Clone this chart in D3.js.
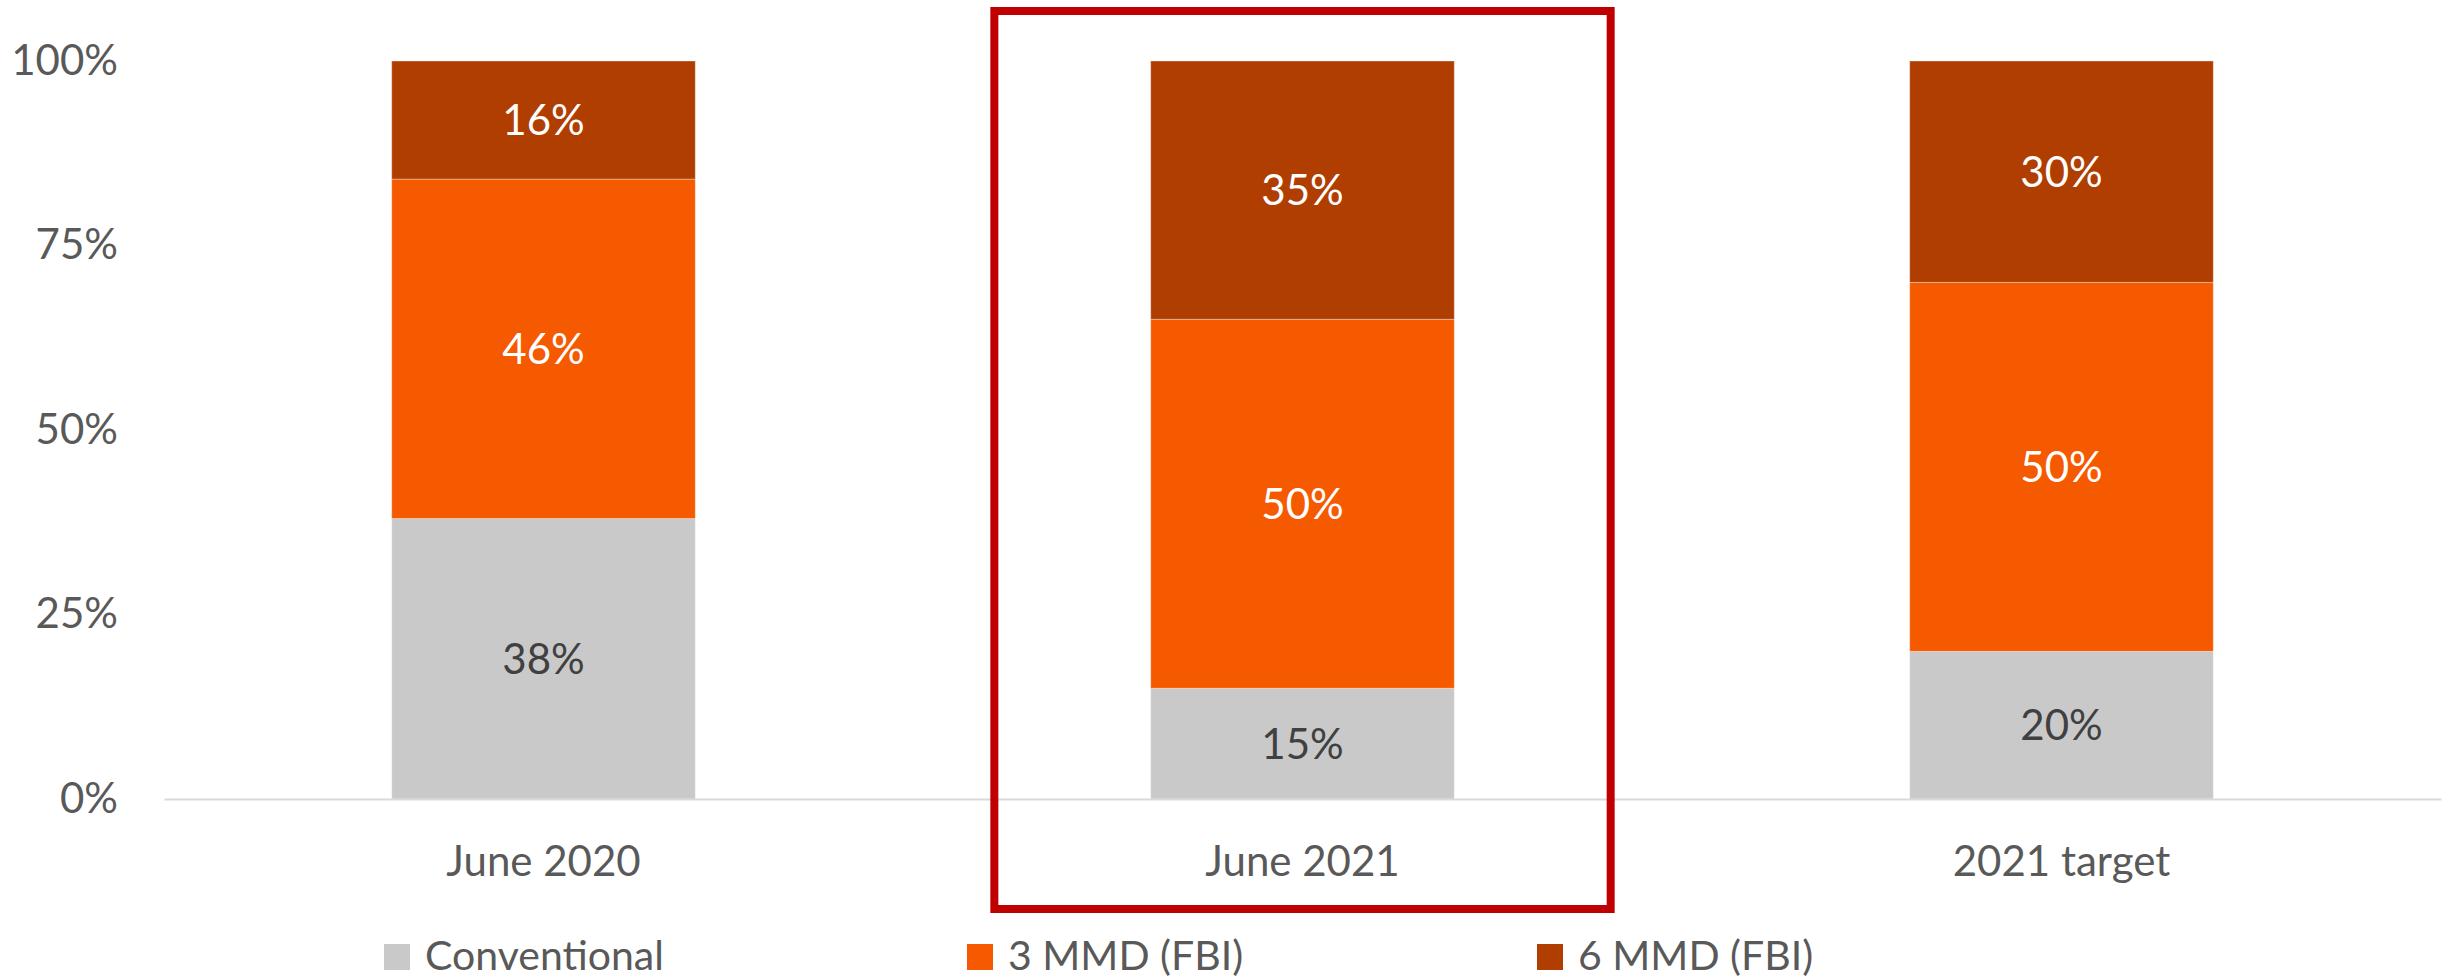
<!DOCTYPE html>
<html>
<head>
<meta charset="utf-8">
<script src="https://cdn.jsdelivr.net/npm/d3@7"></script>
<style>
  html, body { margin: 0; padding: 0; background: #fff; }
  svg { display: block; font-family: Lato, "Open Sans", sans-serif; }
</style>
</head>
<body>
<svg id="chart" width="2448" height="980"></svg>
<script>
// chart data
var categories = ["June 2020", "June 2021", "2021 target"];
var seriesNames = ["Conventional", "3 MMD (FBI)", "6 MMD (FBI)"];
var conventional = [38, 15, 20];
var mmd3 = [46, 50, 50];
var mmd6 = [16, 35, 30];
var yTicks = [0, 0.25, 0.5, 0.75, 1];
var highlighted = "June 2021";

var colors = ["#C9C9C9", "#F55A00", "#B03E00"];
var labelColors = ["#404040", "#ffffff", "#ffffff"];

var plotLeft = 164,
    plotRight = 2441,
    plotTop = 61,
    plotBottom = 799;

var svg = d3.select("#chart");

var x = d3.scaleBand().domain(categories)
          .range([plotLeft, plotRight])
          .paddingInner(0.6)
          .paddingOuter(0.3);

var y = d3.scaleLinear().domain([0, 1]).range([plotBottom, plotTop]);

// build rows for the stack
var rows = categories.map(function(c, i) {
    return { cat: c, "Conventional": conventional[i] / 100, "3 MMD (FBI)": mmd3[i] / 100, "6 MMD (FBI)": mmd6[i] / 100 };
});
var stacked = d3.stack().keys(seriesNames)(rows);

// y axis
var yAxis = svg.append("g")
    .attr("transform", "translate(" + plotLeft + ",0)")
    .call(d3.axisLeft(y).tickValues(yTicks).tickFormat(d3.format(".0%")).tickSize(0).tickPadding(46));
yAxis.select(".domain").remove();
yAxis.selectAll("text")
    .attr("fill", "#595959")
    .style("font-size", "42px")
    .style("font-family", "Lato, sans-serif");

// stacked bars
var layer = svg.selectAll("g.layer").data(stacked).enter()
    .append("g").attr("class", "layer")
    .attr("fill", function(d, i) { return colors[i]; });

layer.selectAll("rect").data(function(d) { return d; }).enter()
    .append("rect")
    .attr("x", function(d) { return x(d.data.cat); })
    .attr("y", function(d) { return y(d[1]); })
    .attr("width", x.bandwidth())
    .attr("height", function(d) { return y(d[0]) - y(d[1]); })
    .attr("stroke", "#ffffff")
    .attr("stroke-opacity", 0.35)
    .attr("stroke-width", 1);

// value labels
stacked.forEach(function(s, i) {
    svg.append("g").selectAll("text").data(s).enter()
        .append("text")
        .attr("x", function(d) { return x(d.data.cat) + x.bandwidth() / 2; })
        .attr("y", function(d) { return (y(d[0]) + y(d[1])) / 2; })
        .attr("dy", "0.36em")
        .attr("text-anchor", "middle")
        .attr("fill", labelColors[i])
        .style("font-size", "42px")
        .text(function(d) { return Math.round((d[1] - d[0]) * 100) + "%"; });
});

// x axis
var xAxis = svg.append("g")
    .attr("transform", "translate(0," + plotBottom + ")")
    .call(d3.axisBottom(x).tickSize(0).tickSizeOuter(0).tickPadding(47));
xAxis.select(".domain").attr("stroke", "#D9D9D9").attr("stroke-width", 2);
xAxis.selectAll("text")
    .attr("fill", "#595959")
    .style("font-size", "42px")
    .style("font-family", "Lato, sans-serif");

// highlight box round one category
var cx = x(highlighted) + x.bandwidth() / 2,
    half = x.step() * 0.406;
svg.append("rect")
    .attr("x", cx - half)
    .attr("y", 11)
    .attr("width", half * 2)
    .attr("height", 898)
    .attr("fill", "none")
    .attr("stroke", "#C00000")
    .attr("stroke-width", 8);

// legend
var legendX = [384, 967, 1537];
var legend = svg.selectAll("g.legend").data(seriesNames).enter()
    .append("g").attr("class", "legend")
    .attr("transform", function(d, i) { return "translate(" + legendX[i] + ",944)"; });

legend.append("rect")
    .attr("width", 26).attr("height", 26)
    .attr("fill", function(d, i) { return colors[i]; });

legend.append("text")
    .attr("x", 41)
    .attr("y", 26)
    .attr("fill", "#595959")
    .style("font-size", "41px")
    .text(function(d) { return d; });
</script>
</body>
</html>
